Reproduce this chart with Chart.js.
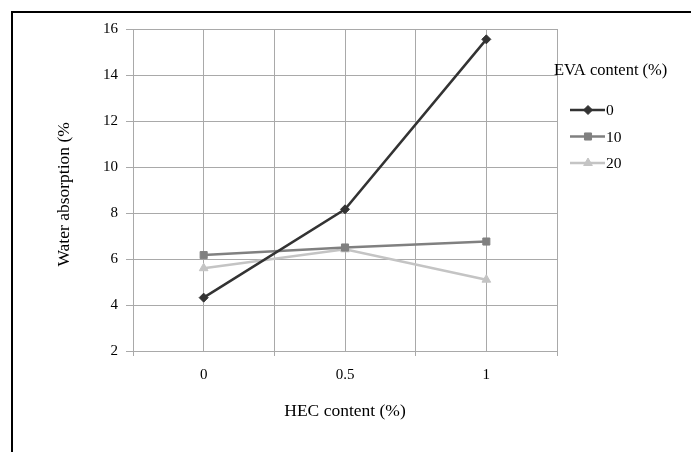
<!DOCTYPE html>
<html lang="en">
<head>
<meta charset="UTF-8">
<title>Water absorption vs HEC content</title>
<script src="https://cdn.jsdelivr.net/npm/chart.js"></script>
<style>
  body { margin: 0; background: #fff; }
</style>
</head>
<body>
<canvas id="myChart" width="691" height="452"></canvas>
<script>
// data
const hecContent = [0, 0.5, 1];
const eva0 = [4.32, 8.16, 15.55];
const eva10 = [6.17, 6.5, 6.76];
const eva20 = [5.6, 6.42, 5.1];
const seriesNames = ['0', '10', '20'];
const xLabels = [0, 0.5, 1];

const serif = '"Liberation Serif", "Times New Roman", serif';
const gridGray = '#a9a9a9';

function toPoints(ys) {
    return hecContent.map((x, i) => ({ x: x, y: ys[i] }));
}

// black frame on the left and top, like the cropped figure
const frame = {
    id: 'frame',
    beforeDraw(chart) {
        const ctx = chart.ctx;
        ctx.save();
        ctx.fillStyle = '#ffffff';
        ctx.fillRect(0, 0, chart.width, chart.height);
        ctx.fillStyle = '#000000';
        ctx.fillRect(11, 11, 2, chart.height - 11);
        ctx.fillRect(11, 11, chart.width - 11, 2);
        ctx.restore();
    }
};

// legend to the right: title + line-with-marker samples
const sideLegend = {
    id: 'sideLegend',
    afterDraw(chart) {
        const ctx = chart.ctx;
        ctx.save();
        ctx.textBaseline = 'middle';
        ctx.fillStyle = '#000';
        ctx.font = '16.5px ' + serif;
        ctx.fillText('EVA content (%)', 554, 71);
        ctx.font = '15.5px ' + serif;
        chart.data.datasets.forEach((ds, i) => {
            const y = 110 + i * 26.5;
            ctx.strokeStyle = ds.borderColor;
            ctx.lineWidth = 2.5;
            ctx.beginPath();
            ctx.moveTo(570, y);
            ctx.lineTo(605, y);
            ctx.stroke();
            ctx.fillStyle = ds.pointBackgroundColor;
            ctx.strokeStyle = ds.borderColor;
            ctx.lineWidth = 1;
            Chart.helpers.drawPoint(ctx, {
                pointStyle: ds.pointStyle,
                radius: ds.pointRadius,
                rotation: 0,
                borderWidth: 1
            }, 588, y);
            ctx.fillStyle = '#000';
            ctx.fillText(ds.label, 606, y + 1);
        });
        ctx.restore();
    }
};

const colors = ['#333333', '#808080', '#c4c4c4'];
const styles = ['rectRot', 'rect', 'triangle'];
const radii = [4.5, 5, 5];

const ctx = document.getElementById('myChart').getContext('2d');
const myChart = new Chart(ctx, {
    type: 'line',
    data: {
        datasets: [eva0, eva10, eva20].map((ys, i) => ({
            label: seriesNames[i],
            data: toPoints(ys),
            borderColor: colors[i],
            backgroundColor: colors[i],
            pointBackgroundColor: colors[i],
            pointBorderColor: colors[i],
            pointStyle: styles[i],
            pointRadius: radii[i],
            pointBorderWidth: 1,
            borderWidth: 2.5,
            tension: 0
        }))
    },
    options: {
        responsive: false,
        animation: false,
        devicePixelRatio: 1,
        layout: { padding: { left: 0, top: 29, right: 134, bottom: 0 } },
        plugins: {
            legend: { display: false },
            tooltip: { enabled: false }
        },
        scales: {
            x: {
                type: 'linear',
                min: -0.25,
                max: 1.25,
                afterFit(scale) { scale.height = 101; },
                ticks: {
                    stepSize: 0.25,
                    autoSkip: false,
                    maxRotation: 0,
                    padding: 10,
                    color: '#000',
                    font: { family: serif, size: 15 },
                    callback: function(value) {
                        return xLabels.includes(value) ? String(value) : '';
                    }
                },
                grid: {
                    color: gridGray,
                    lineWidth: 1,
                    tickLength: 5,
                    tickColor: function(c) {
                        return (c.tick && xLabels.includes(c.tick.value)) ? 'rgba(0,0,0,0)' : gridGray;
                    }
                },
                border: { color: gridGray, width: 1 },
                title: {
                    display: true,
                    text: 'HEC content (%)',
                    color: '#000',
                    font: { family: serif, size: 17.5 },
                    padding: { top: 0, bottom: 30 }
                }
            },
            y: {
                min: 2,
                max: 16,
                afterFit(scale) { scale.width = 133; },
                ticks: {
                    stepSize: 2,
                    padding: 8,
                    color: '#000',
                    font: { family: serif, size: 15 }
                },
                grid: {
                    color: gridGray,
                    lineWidth: 1,
                    tickLength: 7
                },
                border: { color: gridGray, width: 1 },
                title: {
                    display: true,
                    text: 'Water absorption (%  ',
                    color: '#000',
                    font: { family: serif, size: 17.5 },
                    padding: { top: 54, bottom: 0 }
                }
            }
        }
    },
    plugins: [frame, sideLegend]
});
</script>
</body>
</html>
